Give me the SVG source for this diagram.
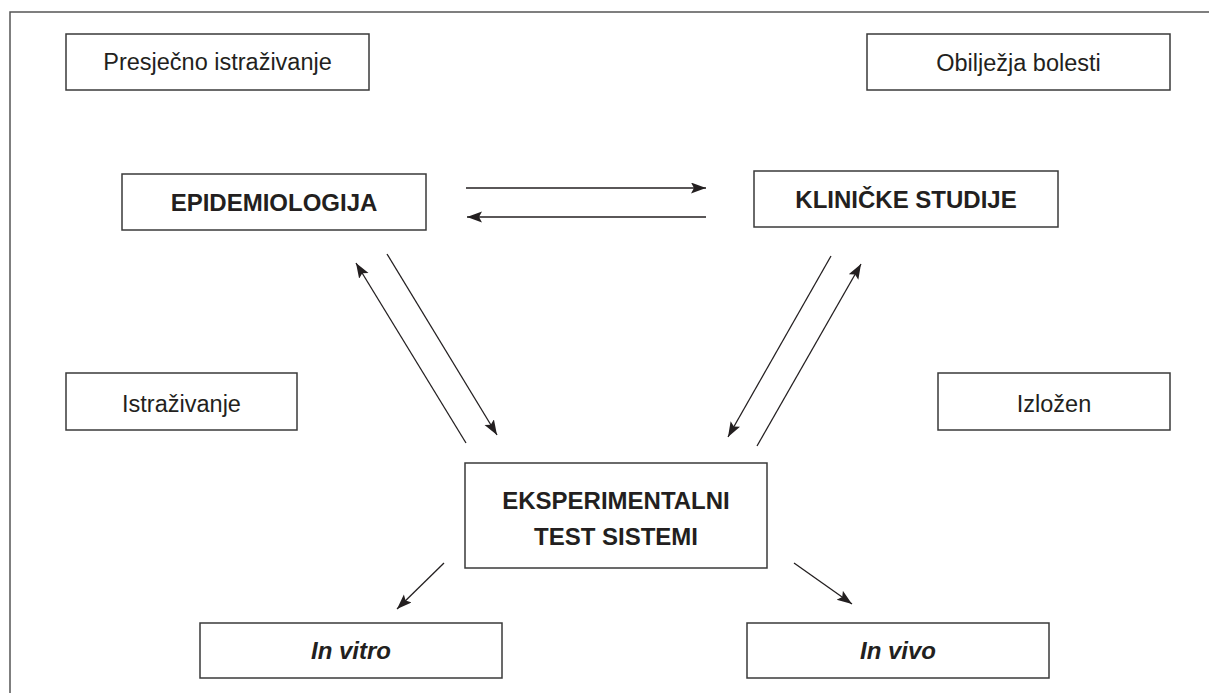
<svg xmlns="http://www.w3.org/2000/svg" width="1209" height="693" viewBox="0 0 1209 693">
<style>
.box{fill:#fff;stroke:#3a3a3a;stroke-width:1.5}
.reg{font-family:"Liberation Sans",Arial,sans-serif;font-size:23.5px;fill:#231f20;text-anchor:middle}
.bold{font-family:"Liberation Sans",Arial,sans-serif;font-size:24px;font-weight:bold;fill:#231f20;text-anchor:middle}
.ital{font-style:italic}
.conn{stroke:#231f20;stroke-width:1.3;fill:none;marker-end:url(#ah)}
.frame{stroke:#555;stroke-width:1.5;fill:none}
</style>
<defs>
<marker id="ah" markerUnits="userSpaceOnUse" markerWidth="16" markerHeight="12" refX="15" refY="5.5" orient="auto">
<path d="M0,0 L15,5.5 L0,11 L3,5.5 z" fill="#231f20"/>
</marker>
</defs>
<rect width="1209" height="693" fill="#fff"/>
<path class="frame" d="M10,693 L10,12 L1209,12"/>
<g id="presjecno"><rect class="box" x="66" y="34" width="303" height="56"/><text class="reg" x="217.5" y="70">Presječno istraživanje</text></g>
<g id="obiljezja"><rect class="box" x="867" y="34" width="303" height="56"/><text class="reg" x="1018.5" y="71">Obilježja bolesti</text></g>
<g id="epidemiologija"><rect class="box" x="122" y="174" width="304" height="56"/><text class="bold" x="274" y="211">EPIDEMIOLOGIJA</text></g>
<g id="klinicke"><rect class="box" x="754" y="171" width="304" height="56"/><text class="bold" x="906" y="208">KLINIČKE STUDIJE</text></g>
<g id="istrazivanje"><rect class="box" x="66" y="373" width="231" height="57"/><text class="reg" x="181.5" y="412">Istraživanje</text></g>
<g id="izlozen"><rect class="box" x="938" y="373" width="232" height="57"/><text class="reg" x="1054" y="412">Izložen</text></g>
<g id="eksperimentalni"><rect class="box" x="465" y="463" width="302" height="105"/><text class="bold" x="616" y="509">EKSPERIMENTALNI</text><text class="bold" x="616" y="545">TEST SISTEMI</text></g>
<g id="invitro"><rect class="box" x="200" y="623" width="302" height="55"/><text class="bold ital" x="351" y="659">In vitro</text></g>
<g id="invivo"><rect class="box" x="747" y="623" width="302" height="55"/><text class="bold ital" x="898" y="659">In vivo</text></g>
<g id="connectors">
<line class="conn" x1="466" y1="188" x2="706" y2="188"/>
<line class="conn" x1="706" y1="217" x2="467" y2="217"/>
<line class="conn" x1="466" y1="443" x2="356" y2="263"/>
<line class="conn" x1="387" y1="254" x2="497" y2="435"/>
<line class="conn" x1="831" y1="256" x2="728" y2="437"/>
<line class="conn" x1="757" y1="446" x2="861" y2="264"/>
<line class="conn" x1="444" y1="563" x2="397" y2="609"/>
<line class="conn" x1="794" y1="563" x2="852" y2="604"/>
</g>
</svg>
